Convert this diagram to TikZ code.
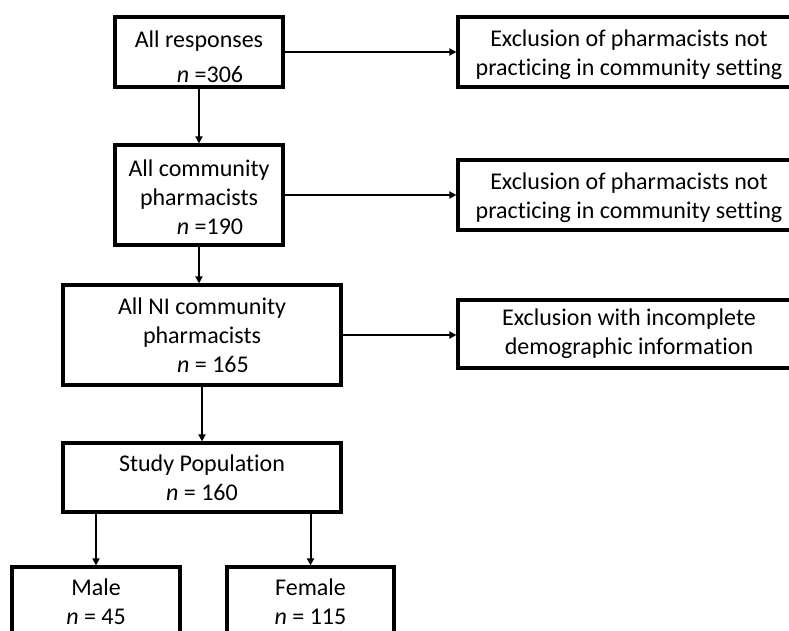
\documentclass[tikz,border=0pt]{standalone}
\usepackage{fontspec}
\setmainfont[Ligatures=CommonOff]{Carlito}
\usetikzlibrary{arrows.meta}
\begin{document}
\begin{tikzpicture}[x=1pt,y=-1pt,
  box/.style={draw=black, line width=3.2pt, inner sep=0pt, align=center,
    font=\fontsize{24}{29}\selectfont},
  arr/.style={line width=2pt, -{Triangle[length=7pt,width=7pt]}}]
\useasboundingbox (0,0) rectangle (789,630);
% left column
\node[box, minimum width=168pt, minimum height=70pt] (b1) at (199,52)
  {\rule{0pt}{27pt}All responses\\[6pt]\hspace*{22pt}\textit{n} =306};
\node[box, minimum width=168pt, minimum height=100pt] (b2) at (199,195)
  {\rule{0pt}{21pt}All community\\pharmacists\\\hspace*{22pt}\textit{n} =190};
\node[box, minimum width=278pt, minimum height=100pt] (b3) at (202,335)
  {All NI community\\pharmacists\\\hspace*{22pt}\textit{n} = 165};
\node[box, minimum width=278pt, minimum height=69pt] (b4) at (202,477.5)
  {Study Population\\\textit{n} = 160};
\node[box, minimum width=168pt, minimum height=70pt] (m) at (96,602)
  {Male\\\textit{n} = 45};
\node[box, minimum width=167pt, minimum height=70pt] (f) at (310.5,602)
  {Female\\\textit{n} = 115};
% right column
\node[box, minimum width=342pt, minimum height=70pt] (r1) at (629,52)
  {\rule{0pt}{23pt}Exclusion of pharmacists not\\practicing in community setting};
\node[box, minimum width=342pt, minimum height=70pt] (r2) at (629,195)
  {\rule{0pt}{23pt}Exclusion of pharmacists not\\practicing in community setting};
\node[box, minimum width=342pt, minimum height=68pt] (r3) at (629,334)
  {Exclusion with incomplete\\demographic information};
% connectors
\draw[arr] (b1.south) -- (b1.south |- b2.north);
\draw[arr] (b2.south) -- (b2.south |- b3.north);
\draw[arr] (b3.south) -- (b3.south |- b4.north);
\draw[arr] (m.north |- b4.south) -- (m.north);
\draw[arr] (f.north |- b4.south) -- (f.north);
\draw[arr] (b1.east) -- (b1.east -| r1.west);
\draw[arr] (b2.east) -- (b2.east -| r2.west);
\draw[arr] (b3.east) -- (b3.east -| r3.west);
\end{tikzpicture}
\end{document}
